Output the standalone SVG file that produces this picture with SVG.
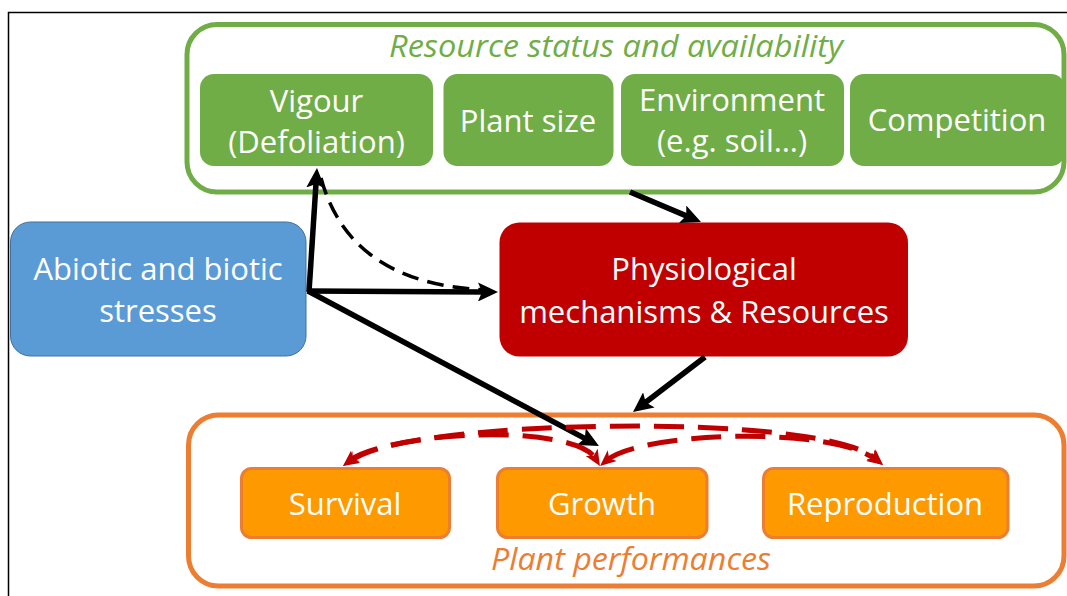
<svg xmlns="http://www.w3.org/2000/svg" width="1067" height="596" viewBox="0 0 1067 596">
<style>
.t{font-family:"Open Sans","Noto Sans","Liberation Sans",sans-serif;font-size:31px;fill:#fff;text-anchor:middle}
.ti{font-family:"Open Sans","Noto Sans","Liberation Sans",sans-serif;font-size:31px;font-style:italic;text-anchor:middle}
.gbox{fill:#70AD47}
.obox{fill:#FF9900;stroke:#ED7D31;stroke-width:3}
.blk{fill:none;stroke:#000;stroke-width:5.5}
.blkd{fill:none;stroke:#000;stroke-width:3.5;stroke-dasharray:17 9}
.red{fill:none;stroke:#C00000;stroke-width:5;stroke-dasharray:30 14}
</style>
<defs>
<marker id="ab" viewBox="0 0 20 19" refX="6" refY="9.5" markerWidth="20" markerHeight="19" markerUnits="userSpaceOnUse" orient="auto">
<path d="M0,0 L20,9.5 L0,19 L4,9.5 z" fill="#000"/>
</marker>
<marker id="ar" viewBox="0 0 16 14" refX="7" refY="7" markerWidth="16" markerHeight="14" markerUnits="userSpaceOnUse" orient="auto-start-reverse">
<path d="M0,0 L16,7 L0,14 L4,7 z" fill="#C00000"/>
</marker>
</defs>
<rect x="8.5" y="12.5" width="1080" height="600" fill="#fff" stroke="#000" stroke-width="1.5"/>

<g id="resource-group">
<rect x="187" y="24.5" width="877" height="167.5" rx="30" fill="none" stroke="#70AD47" stroke-width="5"/>
<text class="ti" x="616" y="57" style="fill:#70AD47" textLength="454" lengthAdjust="spacingAndGlyphs">Resource status and availability</text>
</g>
<g id="vigour"><rect class="gbox" x="200" y="74" width="233" height="92" rx="14"/><text class="t" x="316.5" y="112">Vigour</text><text class="t" x="316.5" y="153">(Defoliation)</text></g>
<g id="plant-size"><rect class="gbox" x="443.5" y="74" width="170" height="92" rx="14"/><text class="t" x="528" y="132">Plant size</text></g>
<g id="environment"><rect class="gbox" x="621" y="74" width="223" height="92" rx="14"/><text class="t" x="732" y="111">Environment</text><text class="t" x="732" y="152">(e.g. soil…)</text></g>
<g id="competition"><rect class="gbox" x="850" y="74" width="215" height="92" rx="14"/><text class="t" x="957" y="131">Competition</text></g>

<g id="stresses"><rect x="10.5" y="222" width="295.5" height="134" rx="20" fill="#5B9BD5" stroke="#41719C" stroke-width="1"/><text class="t" x="158" y="280">Abiotic and biotic</text><text class="t" x="158" y="322">stresses</text></g>

<g id="physiology"><rect x="499.5" y="222.5" width="408.5" height="134" rx="20" fill="#C00000"/><text class="t" x="704" y="280">Physiological</text><text class="t" x="704" y="323">mechanisms &amp; Resources</text></g>

<g id="performance-group">
<rect x="188.5" y="415" width="875.5" height="171" rx="30" fill="none" stroke="#ED7D31" stroke-width="5"/>
<text class="ti" x="631" y="570" style="fill:#ED7D31" textLength="280" lengthAdjust="spacingAndGlyphs">Plant performances</text>
</g>
<g id="survival"><rect class="obox" x="241.5" y="468.5" width="208" height="69" rx="10"/><text class="t" x="345" y="515">Survival</text></g>
<g id="growth"><rect class="obox" x="497.5" y="468.5" width="209.5" height="69" rx="10"/><text class="t" x="602" y="515">Growth</text></g>
<g id="reproduction"><rect class="obox" x="763.5" y="468.5" width="244.5" height="69" rx="10"/><text class="t" x="885" y="515">Reproduction</text></g>

<g id="connectors">
<path class="blkd" d="M321,178 Q350,285 488,290"/>
<line class="blk" x1="309" y1="292" x2="316.1" y2="182" marker-end="url(#ab)"/>
<line class="blk" x1="307" y1="291" x2="484" y2="292" marker-end="url(#ab)"/>
<line class="blk" x1="308" y1="291" x2="586.6" y2="439.4" marker-end="url(#ab)"/>
<line class="blk" x1="630" y1="192" x2="688.1" y2="216.6" marker-end="url(#ab)"/>
<line class="blk" x1="705" y1="357" x2="644.1" y2="403.5" marker-end="url(#ab)"/>
<path class="red" d="M350,460.3 C400,420 820,410 876.2,459.1" marker-start="url(#ar)" marker-end="url(#ar)"/>
<path class="red" d="M350.5,461 C400,428 575,425 595.3,458.3" marker-start="url(#ar)" marker-end="url(#ar)"/>
<path class="red" d="M606.9,460.2 C640,432 830,425 875.8,459.6" marker-start="url(#ar)" marker-end="url(#ar)"/>
</g>
</svg>
